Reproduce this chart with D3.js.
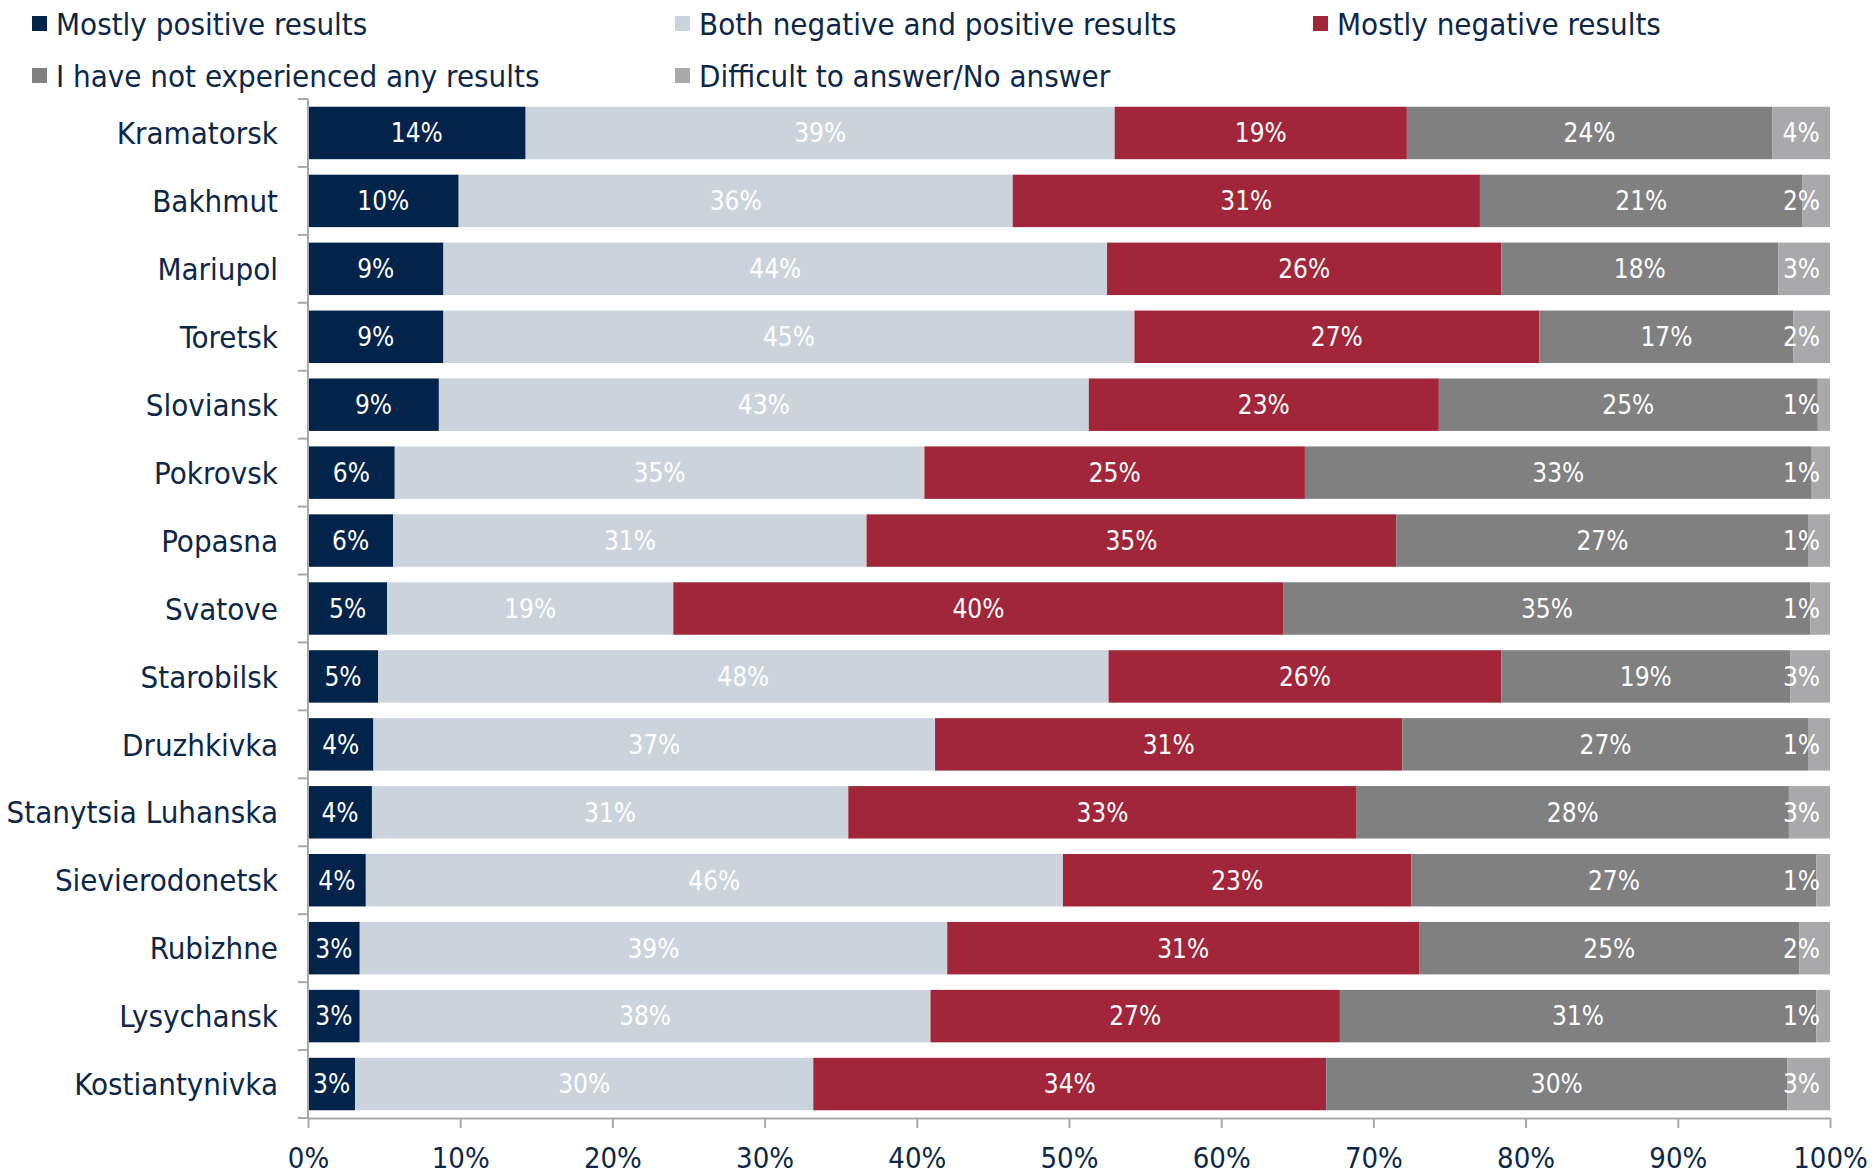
<!DOCTYPE html>
<html><head><meta charset="utf-8">
<script src="https://cdn.jsdelivr.net/npm/d3@7"></script>
<style>
body{margin:0;background:#fff;}
text{font-family:"DejaVu Sans Condensed","DejaVu Sans",sans-serif;font-stretch:condensed;}
</style></head><body>
<svg id="c" width="1872" height="1174"></svg>
<script>
const categories = ["Kramatorsk","Bakhmut","Mariupol","Toretsk","Sloviansk","Pokrovsk","Popasna","Svatove","Starobilsk","Druzhkivka","Stanytsia Luhanska","Sievierodonetsk","Rubizhne","Lysychansk","Kostiantynivka"];
const seriesNames = ["Mostly positive results","Both negative and positive results","Mostly negative results","I have not experienced any results","Difficult to answer/No answer"];
const mostlyPositive = [14.3,9.9,8.9,8.9,8.6,5.7,5.6,5.2,4.6,4.3,4.2,3.8,3.4,3.4,3.1];
const bothNegPos     = [38.7,36.4,43.6,45.4,42.7,34.8,31.1,18.8,48.0,36.9,31.3,45.8,38.6,37.5,30.1];
const mostlyNegative = [19.2,30.7,25.9,26.6,23.0,25.0,34.8,40.1,25.8,30.7,33.4,22.9,31.0,26.9,33.7];
const noResults      = [24.0,21.2,18.2,16.7,24.9,33.3,27.1,34.6,19.0,26.7,28.4,26.6,25.0,31.3,30.3];
const difficult      = [3.8,1.8,3.4,2.4,0.8,1.2,1.4,1.3,2.6,1.4,2.7,0.9,2.0,0.9,2.8];
const xTicks = [0,10,20,30,40,50,60,70,80,90,100];
const colors = ["#02244a","#cbd4dc","#a22639","#808080","#a9a9ab"];
const textColor = "#0d2747";
const axisColor = "#a6a8ab";

const seriesValues = [mostlyPositive,bothNegPos,mostlyNegative,noResults,difficult];
const keys = seriesNames;
const table = categories.map((c,i)=>{const o={cat:c};keys.forEach((k,j)=>o[k]=seriesValues[j][i]);return o;});
const stack = d3.stack().keys(keys)(table);

const svg = d3.select("#c");
const x = d3.scaleLinear().domain([0,100]).range([308,1830]);
const y = d3.scaleBand().domain(categories).range([99,1118]).paddingInner(0.228).paddingOuter(0.114);

// bars
const g = svg.append("g");
stack.forEach((s,si)=>{
  const gs = g.append("g").attr("fill",colors[si]);
  gs.selectAll("rect").data(s).join("rect")
    .attr("x",d=>x(d[0])).attr("width",d=>x(d[1])-x(d[0]))
    .attr("y",d=>y(d.data.cat)).attr("height",y.bandwidth());
});
// labels
stack.forEach((s,si)=>{
  const gl = g.append("g");
  gl.selectAll("text").data(s).join("text")
    .attr("fill","#fff").attr("font-size",26).attr("text-anchor","middle")
    .attr("y",d=>y(d.data.cat)+y.bandwidth()/2).attr("dy","0.36em")
    .text(d=>Math.round(d[1]-d[0])+"%")
    .each(function(d){
      const w=this.getComputedTextLength();
      let cx=(x(d[0])+x(d[1]))/2;
      cx=Math.min(cx,x(100)-w/2-10);
      cx=Math.max(cx,x(0)+w/2+4);
      d3.select(this).attr("x",cx);
    });
});

// y axis
const ya = svg.append("g");
ya.append("line").attr("x1",x(0)).attr("x2",x(0)).attr("y1",99).attr("y2",1118).attr("stroke",axisColor).attr("stroke-width",2);
const bounds = categories.map(c=>y(c)-y.step()*y.paddingInner()/2);
bounds.push(1118);
ya.selectAll("line.t").data(bounds).join("line").attr("class","t")
  .attr("x1",x(0)-10).attr("x2",x(0)).attr("y1",d=>d).attr("y2",d=>d).attr("stroke",axisColor).attr("stroke-width",2);
ya.selectAll("text").data(categories).join("text")
  .attr("x",278).attr("y",d=>y(d)+y.bandwidth()/2).attr("dy","0.36em")
  .attr("text-anchor","end").attr("font-size",31).attr("fill",textColor).text(d=>d);

// x axis
const xa = svg.append("g").attr("transform","translate(0,1118)");
xa.call(d3.axisBottom(x).tickValues(xTicks).tickSize(10).tickSizeOuter(0).tickFormat(d=>d+"%"));
xa.select(".domain").attr("stroke",axisColor).attr("stroke-width",2);
xa.selectAll(".tick line").attr("stroke",axisColor).attr("stroke-width",2);
xa.selectAll(".tick text").attr("fill",textColor).attr("font-size",29).attr("dy","0.36em").attr("y",40)
  .attr("font-family",'"DejaVu Sans Condensed","DejaVu Sans",sans-serif');

// legend
const legPos = [[32,24],[675,24],[1313,24],[32,76],[675,76]];
const lg = svg.append("g");
seriesNames.forEach((n,i)=>{
  const [lx,ly]=legPos[i];
  lg.append("rect").attr("x",lx).attr("y",ly-8).attr("width",15).attr("height",15).attr("fill",colors[i]);
  lg.append("text").attr("x",lx+24).attr("y",ly).attr("dy","0.36em").attr("font-size",31).attr("fill",textColor).text(n);
});
</script>
</body></html>
